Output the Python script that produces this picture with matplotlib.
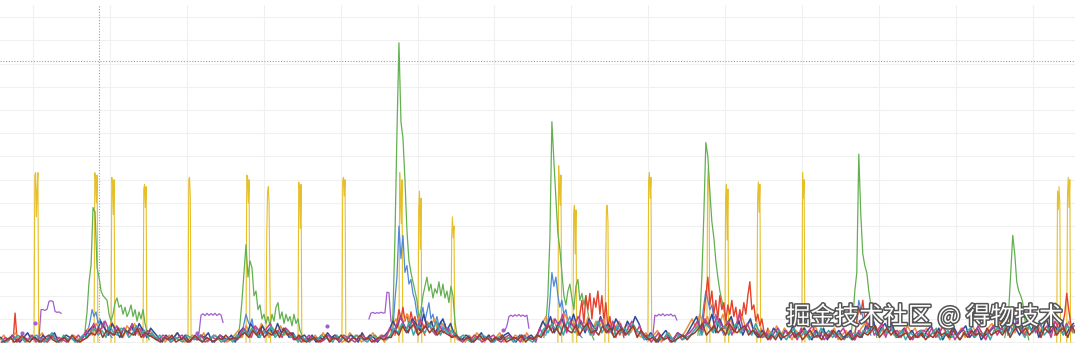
import numpy as np
import matplotlib
matplotlib.use("Agg")
import matplotlib.pyplot as plt
import matplotlib.patheffects as pe

# ---- data (x: minutes, y: load value) ----
STEP = 0.26          # sample step of the burst series
SPIKE_STEP = 0.1     # sample step inside the yellow spikes
NOISE_START = -4.3
NOISE_STEP = 0.5

# yellow: short spikes (start minute, samples)
yellow_start = [0.13, 7.93, 10.14, 14.30, 20.15, 27.69, 30.29, 34.45, 40.17, 47.58, 50.05,
                54.34, 68.25, 70.20, 74.36, 79.95, 87.62, 89.96, 94.12, 99.97, 133.12, 134.42]
yellow_vals = [
    [0, 72, 73, 54, 66, 73, 0],
    [0, 73, 70, 60, 72, 0],
    [0, 71, 68, 55, 70, 0],
    [0, 66, 68, 58, 67, 0],
    [0, 70, 71, 62, 0],
    [0, 72, 71, 60, 70, 0],
    [0, 47, 64, 67, 60, 29, 0],
    [0, 69, 66, 49, 68, 0],
    [0, 70, 71, 63, 70, 0],
    [0, 73, 60, 51, 70, 0],
    [0, 58, 65, 40, 62, 0],
    [0, 46, 54, 45, 50, 0],
    [0, 76, 66, 59, 72, 0],
    [0, 56, 59, 38, 57, 0],
    [0, 32, 57, 59, 52, 0],
    [0, 70, 73, 62, 71, 0],
    [0, 70, 75, 60, 0],
    [0, 62, 68, 44, 66, 0],
    [0, 62, 69, 56, 68, 0],
    [0, 73, 62, 70, 0],
    [0, 65, 57, 67, 60, 0],
    [0, 64, 71, 58, 70, 0],
]

# green bursts
green_start = [6.76, 26.65, 46.54, 66.43, 86.45, 106.34, 126.36]
green_vals = [
    [5, 13, 26, 33, 58, 56, 32, 28, 22, 20, 19, 18, 12, 9, 12, 17, 19, 15, 16, 12, 15, 11, 13,
     16, 11, 14, 9, 13, 10, 14, 8, 4, 1],
    [2, 8, 18, 30, 42, 28, 35, 32, 20, 22, 14, 16, 10, 12, 8, 11, 7, 12, 9, 15, 17, 10, 13, 8,
     12, 9, 11, 7, 12, 8, 10, 5, 3, 1],
    [3, 12, 45, 90, 129, 95, 88, 70, 48, 35, 30, 26, 22, 18, 10, 14, 20, 24, 28, 22, 25, 19, 23,
     21, 26, 20, 25, 19, 22, 17, 24, 20, 9, 3, 1],
    [2, 8, 20, 45, 95, 78, 62, 47, 40, 30, 20, 16, 22, 25, 19, 14, 24, 27, 18, 21, 16, 20, 13,
     8, 3, 1],
    [3, 10, 28, 55, 86, 80, 65, 52, 45, 35, 28, 22, 18, 14, 10, 7, 4],
    [2, 10, 22, 30, 81, 55, 38, 33, 30, 22, 16, 11, 6, 2],
    [2, 6, 14, 30, 46, 38, 26, 22, 20, 17, 10, 5, 1],
]

# blue bursts
blue_start = [6.89, 26.91, 46.54, 66.69, 86.71, 106.86, 126.75]
blue_vals = [
    [2, 5, 9, 14, 11, 13, 8, 10, 6, 9, 4, 6, 3, 2],
    [2, 4, 8, 12, 9, 7, 10, 5, 6, 3, 2],
    [2, 6, 18, 28, 50, 36, 46, 30, 33, 25, 27, 21, 18, 12, 8, 11, 15, 9, 13, 17, 10, 12, 8, 11,
     7, 9, 5, 8, 4, 6, 3],
    [3, 8, 18, 30, 24, 28, 20, 15, 18, 12, 14, 9, 11, 7, 8, 5, 6, 3, 2],
    [3, 9, 16, 22, 18, 14, 16, 10, 12, 7, 8, 5, 3],
    [3, 10, 18, 14, 11, 8, 9, 5, 3],
    [3, 8, 14, 11, 9, 12, 7, 5, 3],
]

# red bursts
red_start = [-2.6, 47.06, 70.85, 86.97, 106.86, 132.86]
red_vals = [
    [0, 12.5, 1],
    [3, 8, 14, 10, 15, 9, 12, 7, 13, 9, 11, 6, 8, 4, 5, 3],
    [3, 12, 18, 8, 20, 14, 21, 10, 19, 15, 22, 12, 20, 9, 17, 6, 11, 4, 7, 2, 5, 3, 6, 2],
    [4, 12, 20, 28, 16, 22, 12, 18, 10, 20, 14, 17, 9, 16, 12, 18, 11, 15, 8, 14, 10, 17, 12,
     20, 26, 14, 16, 9, 12, 7, 10, 5, 3, 6, 2],
    [3, 9, 15, 12, 18, 10, 8, 6, 4],
    [3, 6, 9, 5, 8, 12, 21, 14, 8, 5],
]

# purple plateaus + isolated points
purple_start = [0.78, 21.58, 43.68, 61.36, 80.6]
purple_vals = [
    [2, 14, 14, 13.6, 14.2, 17.6, 17.8, 17.5, 13.2, 12.8, 13.0, 12.4],
    [4, 11.6, 12.2, 11.4, 12.4, 11.5, 12.3, 11.6, 12.4, 11.4, 12.2, 11.7, 8.5],
    [10, 12.5, 12.8, 12.3, 12.7, 12.4, 12.9, 12.5, 12.6, 21.5, 21.3, 9],
    [5, 7, 11, 11.6, 11, 11.8, 11.2, 11.9, 11.1, 11.7, 11, 11.6, 6],
    [3, 11.6, 11.2, 12.0, 11.4, 12.2, 11.3, 11.9, 11.5, 12.1, 11.2, 11.6, 9.5],
]
purple_dot_x = [-1.43, 0.26, 21.32, 38.22, 61.1]
purple_dot_y = [3.9, 8.2, 3.9, 6.9, 5.2]

# low level series along the baseline
noise_orange = [
    1,3,0,2,4,1,2,0,3,1,2,4,0,1,3,2,0,2,1,3, 2,0,4,6,3,8,5,7,3,9,4,6,2,7,5,8,3,6,4,5,
    3,1,2,0,3,1,4,2,0,1,3,2,1,4,0,2,3,1,2,0, 1,3,5,2,7,4,6,3,8,5,2,6,4,7,3,5,2,1,3,0,
    2,1,3,0,4,2,1,3,2,0,1,4,2,3,0,1,2,4,1,3, 0,4,7,10,5,9,12,6,8,11,5,9,7,10,4,8,6,3,5,1,
    2,0,3,1,4,2,0,3,1,2,4,0,2,1,3,2,0,4,1,2, 4,8,11,6,10,5,9,12,7,10,4,8,6,11,5,9,7,10,4,8,
    6,9,5,8,4,7,3,2,4,1,3,5,0,2,4,1,3,2,4,7, 10,6,12,8,11,5,9,7,12,6,10,4,8,11,6,9,5,3,6,2,
    5,3,7,2,6,4,1,5,3,6,2,4,7,3,5,2,4,6,1,3, 5,2,4,3,6,8,4,9,5,7,3,8,6,2,5,3,7,4,6,2,
    4,6,3,5,2,7,4,1,5,3,6,2,4,7,3,5,2,6,8,4, 9,5,7,10,4,8,6,3,9,5,7,4,10,6,8,3,7,5,9,4,
]
noise_navy = [
    2,0,1,3,1,0,2,4,1,2,0,3,1,2,4,0,1,3,2,1, 0,2,3,5,7,4,9,6,3,8,5,2,6,4,7,3,8,5,2,6,
    4,2,0,3,1,2,4,1,3,0,2,1,3,2,4,0,1,3,2,1, 3,0,4,6,3,8,5,2,7,4,6,3,8,4,6,2,4,1,2,3,
    1,3,0,2,1,4,2,3,0,2,1,3,2,0,4,1,3,2,0,2, 3,5,9,6,11,7,4,10,8,5,12,6,9,4,7,10,5,8,3,2,
    1,3,2,0,2,4,1,3,0,2,1,3,4,2,0,3,1,2,3,1, 5,9,6,11,4,8,10,5,7,12,6,9,4,10,7,5,11,6,8,5,
    10,7,4,9,6,11,8,3,1,4,2,0,3,5,2,1,4,3,2,5, 8,11,5,9,7,12,4,10,6,8,11,5,9,3,7,10,4,2,5,3,
    2,6,4,1,5,3,7,2,4,6,3,1,5,2,6,1,4,3,5,2, 3,5,1,4,2,7,5,9,3,6,8,4,7,2,4,6,3,5,2,4,
    2,5,7,3,6,1,4,2,6,3,5,7,2,4,6,1,3,4,6,9, 5,8,4,10,6,3,7,9,5,8,2,6,10,4,7,5,9,3,6,8,
]
noise_magenta = [
    0,2,1,3,0,1,2,1,3,0,2,1,0,3,1,2,1,0,2,1, 3,1,5,3,8,4,6,9,5,3,7,4,6,3,8,4,6,2,5,3,
    2,1,3,2,0,1,2,3,1,0,2,1,3,0,1,2,1,3,0,2, 1,2,3,6,4,2,7,5,3,6,8,3,5,2,6,4,1,2,0,1,
    3,1,2,0,1,3,1,2,0,3,2,1,0,2,3,1,2,0,1,3, 2,6,4,8,11,5,7,9,4,10,6,8,5,3,7,4,6,2,4,1,
    0,2,1,3,2,0,1,2,3,1,0,2,3,1,2,0,3,1,2,0, 6,3,8,5,10,7,12,4,9,6,11,8,5,9,3,7,10,6,4,9,
    5,8,3,6,9,4,7,2,3,0,2,4,1,3,0,2,4,1,3,4, 6,9,4,10,7,5,11,8,6,9,3,7,12,5,8,4,6,3,2,4,
    1,4,6,3,5,2,4,1,6,3,5,7,2,4,1,3,5,2,4,6, 2,4,1,5,3,6,9,3,5,8,2,7,4,5,2,6,3,1,4,5,
    5,3,6,2,4,7,3,5,1,4,6,3,5,2,7,4,1,5,7,3, 6,4,8,5,9,7,3,6,10,4,8,5,7,2,9,6,4,8,5,7,
]
noise_teal = [
    1,0,2,1,3,2,0,1,2,3,1,0,2,4,1,0,3,1,2,0, 1,3,2,4,6,3,5,2,7,4,3,6,5,2,4,7,3,5,2,4,
    1,3,1,2,0,2,1,0,3,2,1,3,0,2,1,3,2,0,1,2, 0,3,2,5,3,6,4,2,5,3,7,2,4,3,5,2,3,0,2,1,
    0,2,1,3,2,1,0,3,1,2,0,1,3,2,1,0,2,3,1,2, 1,3,6,4,8,5,9,3,7,6,4,8,5,9,3,6,4,5,2,2,
    3,1,0,2,1,3,2,1,0,2,3,1,2,0,1,3,2,1,0,2, 3,6,4,8,5,7,3,9,6,4,8,5,7,3,6,9,4,7,5,3,
    7,4,6,3,8,5,4,1,2,3,0,2,1,4,2,0,3,1,2,3, 5,7,3,8,6,4,9,5,7,3,6,8,4,7,5,3,8,4,3,2,
    4,2,5,3,1,4,6,2,3,5,1,4,2,6,3,5,2,4,3,1, 3,1,4,2,5,4,7,5,3,6,4,8,3,2,5,1,4,3,2,5,
    3,2,4,6,1,3,5,2,4,1,3,5,6,2,4,3,5,1,5,6, 4,7,3,6,8,5,2,7,4,6,9,3,5,8,4,6,3,7,5,4,
]
noise_brown = [
    0,1,2,0,1,3,1,0,2,1,0,2,3,1,0,1,2,0,3,1, 0,1,2,4,3,6,2,5,4,3,6,2,5,4,3,6,2,4,3,2,
    1,0,2,1,3,0,1,2,0,1,3,1,0,2,1,0,2,1,3,1, 2,1,3,4,2,5,3,6,2,4,3,5,2,6,3,4,1,3,1,0,
    1,2,0,1,3,0,2,1,3,1,0,2,1,3,1,2,0,1,2,1, 2,2,5,3,7,4,6,8,3,5,7,4,6,3,5,4,3,2,3,1,
    1,2,0,1,3,1,2,0,2,1,3,0,1,2,1,3,0,2,1,3, 2,5,7,4,6,3,8,5,4,7,3,6,8,4,5,3,7,4,6,2,
    4,6,3,5,7,2,5,3,1,2,0,3,1,2,0,1,2,3,1,3, 4,6,8,3,5,7,4,6,3,8,5,4,6,7,3,5,4,2,4,1,
    3,1,4,2,3,5,2,4,1,3,5,2,3,1,4,2,5,3,1,2, 4,1,3,2,4,3,5,7,2,4,6,3,5,2,3,4,1,3,2,4,
    1,3,2,5,3,4,2,6,3,1,4,2,5,3,4,2,6,3,4,5, 3,6,2,5,7,4,6,3,5,7,2,6,4,8,3,5,6,2,7,4,
]

crosshair_x = 8.58
crosshair_y = 121.1
watermark = "掘金技术社区 @ 得物技术"


def plot_bursts(ax, starts, vals, step, color, lw, z):
    for t0, ys in zip(starts, vals):
        xs = t0 + step * np.arange(len(ys))
        ax.plot(xs, ys, color=color, lw=lw, zorder=z)


fig = plt.figure(figsize=(10.8, 3.45), dpi=100)
ax = fig.add_axes([0, 0.0058, 0.9954, 0.9797])

# grid
ax.set_xticks(np.arange(0, 140, 10))
ax.set_yticks(np.arange(0, 150, 10))
ax.grid(color="#f0f0f0", lw=0.8, zorder=0)
ax.tick_params(length=0, labelbottom=False, labelleft=False)
for s in ax.spines.values():
    s.set_visible(False)

# baseline noise
noise_colors = ["#f0913a", "#2e4b98", "#c2418e", "#3aa8a4", "#9c3b2b"]
noise_all = [noise_orange, noise_navy, noise_magenta, noise_teal, noise_brown]
for k, (ys, c) in enumerate(zip(noise_all, noise_colors)):
    xs = NOISE_START + 0.09 * k + NOISE_STEP * np.arange(len(ys))
    ax.plot(xs, ys, color=c, lw=1.1, zorder=6)

plot_bursts(ax, yellow_start, yellow_vals, SPIKE_STEP, "#e6c02a", 0.8, 2)
plot_bursts(ax, green_start, green_vals, STEP, "#62b050", 0.9, 3)
plot_bursts(ax, blue_start, blue_vals, STEP, "#5089da", 0.9, 4)
plot_bursts(ax, red_start, red_vals, STEP, "#e5412d", 1.0, 5)
plot_bursts(ax, purple_start, purple_vals, STEP, "#a35ed0", 0.9, 7)
ax.scatter(purple_dot_x, purple_dot_y, s=9, color="#a35ed0", zorder=7, linewidths=0)

# crosshair
ax.axvline(crosshair_x, color="#a0a0a0", lw=0.8, ls=(0, (1, 1.5)), zorder=8)
ax.axhline(crosshair_y, color="#a0a0a0", lw=0.8, ls=(0, (1, 1.5)), zorder=8)

ax.set_xlim(-4.3, 135.5)
ax.set_ylim(-0.4, 145.3)

fig.text(0.984, 0.081, watermark, ha="right", va="center", fontsize=17.5, color="white",
         family=["Noto Sans CJK SC", "DejaVu Sans"], zorder=10,
         path_effects=[pe.withStroke(linewidth=2.2, foreground="#555555")])

fig.savefig("out.png", dpi=100, facecolor="white")
